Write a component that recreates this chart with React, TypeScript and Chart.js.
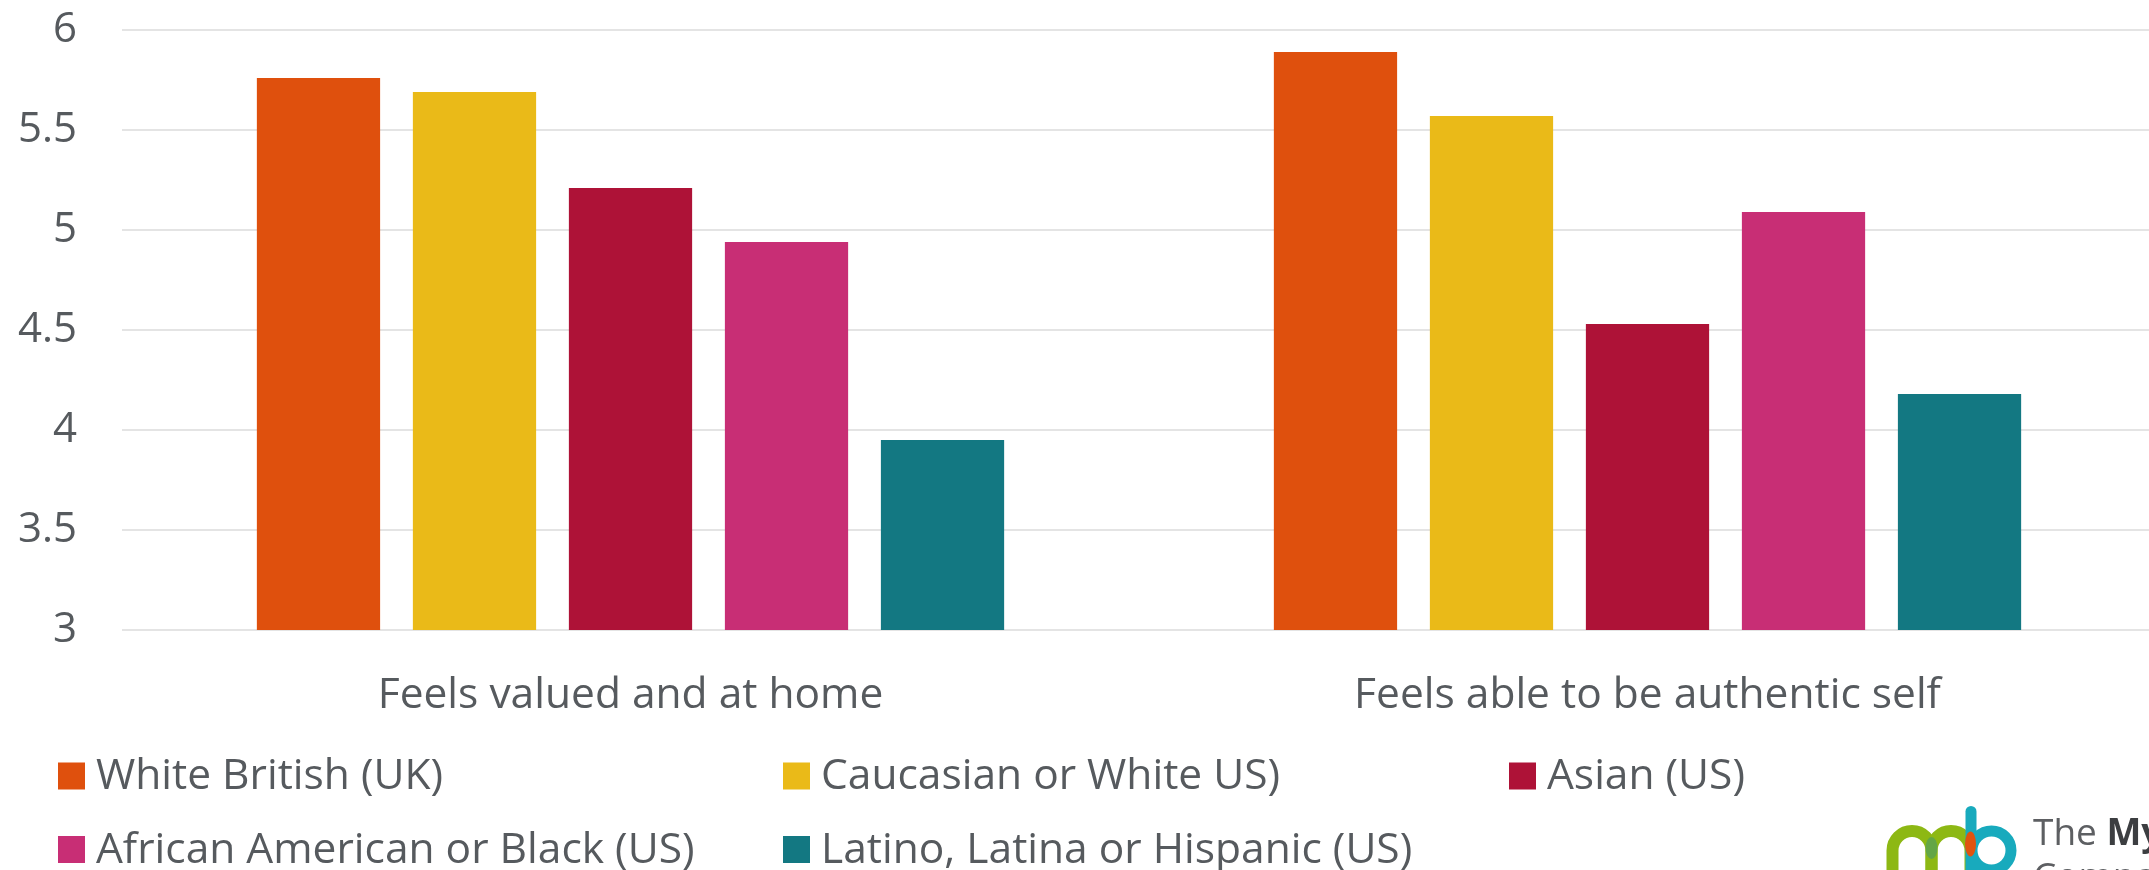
import React, { useEffect, useRef } from "react";
import { Chart, registerables } from "chart.js";

Chart.register(...registerables);

// Survey categories (x axis)
const categories = ["Feels valued and at home", "Feels able to be authentic self"];

// Group names, in legend order
const seriesNames = [
  "White British (UK)",
  "Caucasian or White US)",
  "Asian (US)",
  "African American or Black (US)",
  "Latino, Latina or Hispanic (US)",
];

// Mean scores per group, one value per category
const whiteBritish = [5.76, 5.89];
const caucasianWhite = [5.69, 5.57];
const asian = [5.21, 4.53];
const africanAmerican = [4.94, 5.09];
const latino = [3.95, 4.18];

const seriesValues = [whiteBritish, caucasianWhite, asian, africanAmerican, latino];
const seriesColors = ["#DF500D", "#EABA18", "#AE1237", "#C82E75", "#137882"];

// Value axis range
const yMin = 3;
const yMax = 6;
const yStep = 0.5;

// Brand mark text
const logoWordRegular = "The ";
const logoWordBold = "Myers-Briggs";
const logoSecondLine = "Company";

const TEXT = "#565a5e";
const FONT = '"Open Sans", "Noto Sans", sans-serif';

// Legend laid out as a fixed grid of three columns
const gridLegend = {
  id: "gridLegend",
  afterDraw(chart: any) {
    const ctx: CanvasRenderingContext2D = chart.ctx;
    const cols = [58, 783, 1509];
    const rows = [776, 849.5];
    const box = 27;
    ctx.save();
    ctx.font = `42.5px ${FONT}`;
    ctx.textBaseline = "middle";
    ctx.textAlign = "left";
    chart.data.datasets.forEach((ds: any, i: number) => {
      const x = cols[i % 3];
      const y = rows[Math.floor(i / 3)];
      ctx.fillStyle = ds.backgroundColor;
      ctx.fillRect(x, y - box / 2, box, box);
      ctx.fillStyle = TEXT;
      ctx.fillText(ds.label, x + box + 11, y + 1);
    });
    ctx.restore();
  },
};

// Company mark in the bottom-right corner
const brandMark = {
  id: "brandMark",
  afterDraw(chart: any) {
    const ctx: CanvasRenderingContext2D = chart.ctx;
    const cy = 850.5;
    const r = 19.5;
    ctx.save();
    ctx.lineCap = "butt";

    // green "m"
    ctx.strokeStyle = "#8DB814";
    ctx.lineWidth = 12;
    ctx.beginPath();
    ctx.moveTo(1892.5, 900);
    ctx.lineTo(1892.5, cy);
    ctx.arc(1912, cy, r, Math.PI, 2 * Math.PI);
    ctx.lineTo(1931.5, 900);
    ctx.stroke();
    ctx.beginPath();
    ctx.moveTo(1931.5, 900);
    ctx.lineTo(1931.5, cy);
    ctx.arc(1951, cy, r, Math.PI, 2 * Math.PI);
    ctx.lineTo(1970.5, 900);
    ctx.stroke();

    ctx.fillStyle = "#63A646";
    ctx.beginPath();
    ctx.ellipse(1931.5, 848, 6, 11, 0, 0, 2 * Math.PI);
    ctx.fill();

    // teal "b"
    ctx.strokeStyle = "#18AABD";
    ctx.lineWidth = 11;
    ctx.beginPath();
    ctx.arc(1991.5, cy, r, 0, 2 * Math.PI);
    ctx.stroke();
    ctx.lineCap = "round";
    ctx.beginPath();
    ctx.moveTo(1971, 811.5);
    ctx.lineTo(1971, 900);
    ctx.stroke();

    ctx.fillStyle = "#E0530F";
    ctx.beginPath();
    ctx.ellipse(1970.5, 844, 5.5, 12.5, 0, 0, 2 * Math.PI);
    ctx.fill();

    // wordmark
    ctx.textBaseline = "alphabetic";
    ctx.textAlign = "left";
    ctx.font = `37px ${FONT}`;
    ctx.fillStyle = "#5d5f62";
    ctx.fillText(logoWordRegular, 2033, 845);
    const w = ctx.measureText(logoWordRegular).width;
    ctx.font = `bold 37px ${FONT}`;
    ctx.fillStyle = "#3c3e41";
    ctx.fillText(logoWordBold, 2033 + w, 845);
    ctx.font = `37px ${FONT}`;
    ctx.fillStyle = "#5d5f62";
    ctx.fillText(logoSecondLine, 2033, 889);
    ctx.restore();
  },
};

export default function App() {
  const canvasRef = useRef<HTMLCanvasElement | null>(null);

  useEffect(() => {
    const canvas = canvasRef.current;
    if (!canvas) return;
    let chart: Chart | null = null;
    let cancelled = false;

    const build = () => {
      if (cancelled) return;
      chart = new Chart(canvas, {
        type: "bar",
        data: {
          labels: categories,
          datasets: seriesNames.map((name, i) => ({
            label: name,
            data: seriesValues[i],
            backgroundColor: seriesColors[i],
            borderWidth: 0,
            categoryPercentage: 0.767,
            barPercentage: 0.79,
          })),
        },
        options: {
          responsive: false,
          maintainAspectRatio: false,
          devicePixelRatio: 1,
          animation: false,
          layout: { padding: { top: 30, right: 0, left: 0, bottom: 140 } },
          plugins: {
            legend: { display: false },
            tooltip: { enabled: false },
          },
          scales: {
            x: {
              grid: { display: false },
              border: { display: false },
              ticks: {
                color: TEXT,
                font: { family: FONT, size: 42.5 },
                padding: 32,
                maxRotation: 0,
              },
              afterFit: (scale: any) => {
                scale.height = 100;
                scale.paddingLeft = 0;
                scale.paddingRight = 0;
              },
            },
            y: {
              min: yMin,
              max: yMax,
              border: { display: false },
              grid: { color: "#e4e4e4", lineWidth: 2, drawTicks: false },
              ticks: {
                stepSize: yStep,
                color: TEXT,
                font: { family: FONT, size: 42 },
                padding: 45,
                callback: (value: any) => String(Number(value)),
              },
              afterFit: (scale: any) => {
                scale.width = 122;
                scale.paddingTop = 0;
                scale.paddingBottom = 0;
              },
            },
          },
        },
        plugins: [gridLegend, brandMark],
      });
    };

    const fonts: any = (document as any).fonts;
    if (fonts && fonts.load) {
      Promise.all([
        fonts.load('43px "Open Sans"'),
        fonts.load('bold 37px "Open Sans"'),
      ])
        .catch(() => undefined)
        .then(build);
    } else {
      build();
    }

    return () => {
      cancelled = true;
      if (chart) chart.destroy();
    };
  }, []);

  return (
    <div
      style={{
        position: "absolute",
        left: 0,
        top: 0,
        width: 2149,
        height: 870,
        overflow: "hidden",
        background: "#ffffff",
      }}
    >
      <canvas ref={canvasRef} width={2156} height={870} style={{ display: "block" }} />
    </div>
  );
}
